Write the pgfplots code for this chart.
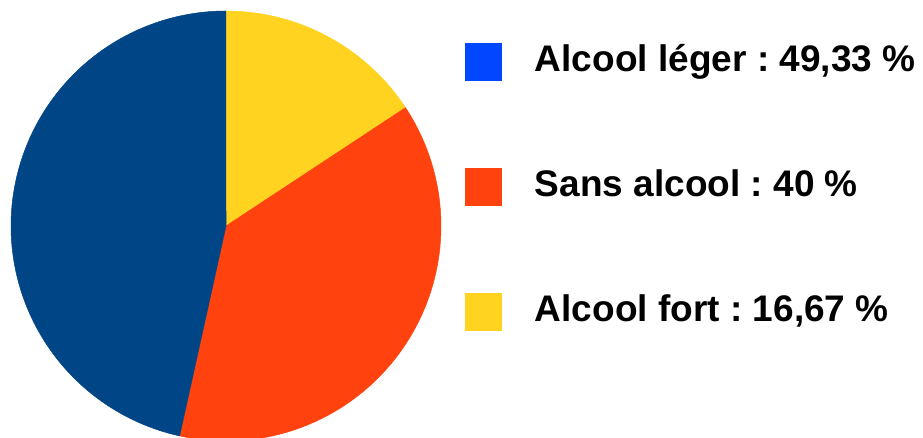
\documentclass[border=0pt]{standalone}
\usepackage{pgfplots}
\pgfplotsset{compat=1.18}
\usepackage{fontspec}
\setmainfont{Liberation Sans}
\frenchspacing
\definecolor{pieB}{HTML}{004586}
\definecolor{pieR}{HTML}{FF420E}
\definecolor{pieY}{HTML}{FFD320}
\definecolor{legB}{HTML}{0047FF}
\def\vA{49.33}
\def\vB{40}
\def\vC{16.67}
\pgfmathsetmacro{\tot}{\vA+\vB+\vC}
\pgfmathsetmacro{\aone}{90-\vC/\tot*360}
\pgfmathsetmacro{\atwo}{\aone-\vB/\tot*360}
\pgfmathsetmacro{\athree}{\atwo-\vA/\tot*360}
\begin{document}
\begin{tikzpicture}[x=1pt,y=1pt]
\useasboundingbox (0,0) rectangle (923,438);
\begin{axis}[
  scale only axis, width=430pt, height=430pt,
  at={(11pt,-3pt)}, anchor=south west,
  xmin=-1, xmax=1, ymin=-1, ymax=1,
  hide axis, clip=false,
  legend style={draw=none, fill=none, inner sep=0pt, outer sep=0pt,
    at={(1.0558,0.934)}, anchor=north west,
    font=\fontsize{37pt}{44pt}\selectfont\bfseries,
    row sep=83pt, column sep=33pt,
    nodes={inner sep=0pt, outer sep=0pt, text height=32pt, text depth=8pt},
    cells={anchor=west}},
  legend image code/.code={\fill[#1, draw=none] (0pt,-22pt) rectangle (37pt,16pt);},
]
\addplot[fill=pieY, draw=pieY, line width=0.5pt, domain=\aone:90, samples=80, variable=\t, forget plot] ({cos(\t)},{sin(\t)}) -- (axis cs:0,0) -- cycle;
\addplot[fill=pieR, draw=pieR, line width=0.5pt, domain=\atwo:\aone, samples=120, variable=\t, forget plot] ({cos(\t)},{sin(\t)}) -- (axis cs:0,0) -- cycle;
\addplot[fill=pieB, draw=pieB, line width=0.5pt, domain=\athree:\atwo, samples=140, variable=\t, forget plot] ({cos(\t)},{sin(\t)}) -- (axis cs:0,0) -- cycle;
\addlegendimage{fill=legB}
\addlegendentry{Alcool léger : 49,33 \%}
\addlegendimage{fill=pieR}
\addlegendentry{Sans alcool : 40 \%}
\addlegendimage{fill=pieY}
\addlegendentry{Alcool fort : 16,67 \%}
\end{axis}
\end{tikzpicture}
\end{document}
